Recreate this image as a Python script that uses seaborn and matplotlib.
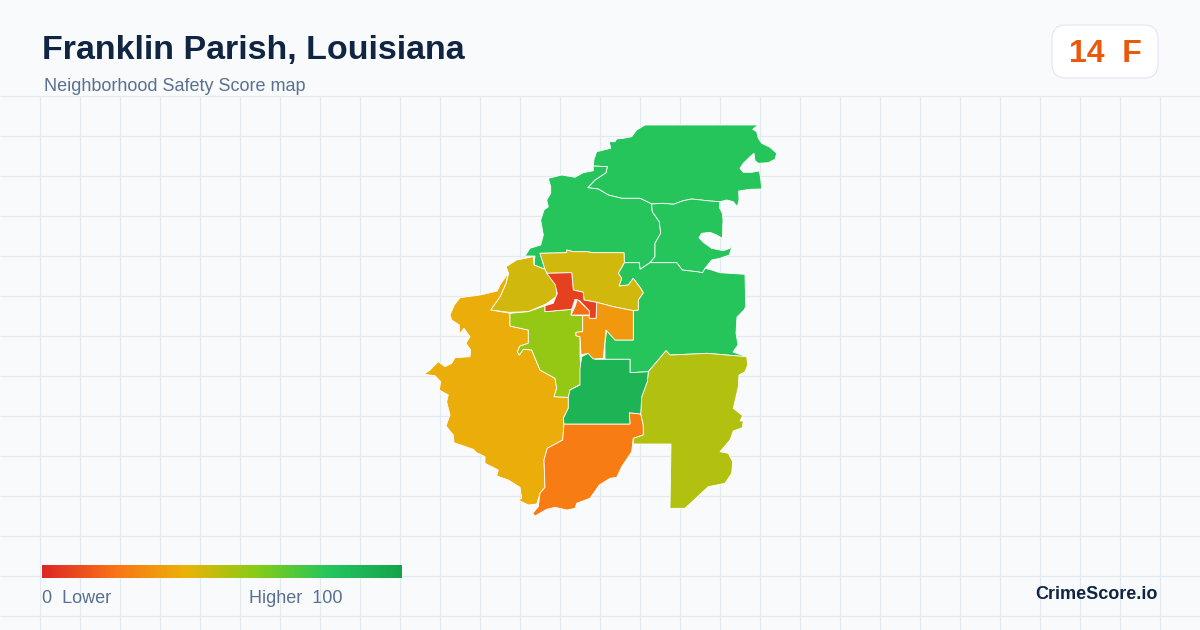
#importing libraries
import numpy as np
import matplotlib.pyplot as plt
from matplotlib.patches import FancyBboxPatch
import seaborn as sns

#Data, outlines in pixels
title = 'Franklin Parish, Louisiana'
subtitle = 'Neighborhood Safety Score map'
badge = '14  F'
legend_low = '0  Lower'
legend_high = 'Higher  100'
brand = 'CrimeScore.io'
palette_stops = ['#dc2626', '#f97316', '#eab308', '#84cc16', '#22c55e', '#16a34a']

north = [(587.7,187.7),(595,180),(606,172.7),(607.3,166.7),(593.3,166),(594,159.3),(596.7,151.7),(610.7,148.3),(609.3,141.7),(615,141.7),
         (616.7,139),(623.3,138.3),(631.7,136.7),(636.7,130),(645,125),(758.3,125),(752.7,129.3),(756.7,131.7),(758.3,138.3),(761.7,143.3),
         (770,147.3),(776.7,153.3),(775,159.3),(768.3,162.7),(758.3,163.3),(755,160.7),(754,153.3),(750,156.7),(743.3,163.3),(740,168.3),
         (743.3,172.3),(751.7,172.3),(759.3,171),(760.7,178.3),(761.7,189),(750,189.3),(738.7,191),(739,200),(737.3,206.7),(733.3,201.7),
         (726.7,200),(720,201.7),(710,201),(691.7,199),(683.3,200.7),(673.3,204.3),(663.3,203.3),(651.7,204),(648.3,202.3),(640,198.3),
         (621.7,198.3),(608.3,195),(598.3,189)]
northwest = [(593.3,166),(593.3,170.7),(583.3,172.7),(575,177.3),(561.7,175),(548.3,178.3),(550.7,186.7),(550.7,193.3),(546.7,200),(548.3,206.7),
             (544,210),(540.7,220),(543.3,235),(540.7,245),(530,248.3),(525,256),(535,256),(534,265),(545,269.3),(540,253.3),
             (566.7,252.7),(566.7,250),(573.3,251.7),(586.7,251.7),(593.3,252.7),(624,252.7),(624.3,262.7),(639.3,262.7),(640,269.3),
             (650,262.7),(655,256.7),(655,243.3),(660.7,233.3),(659.3,221.7),(652.3,211.7),(651.7,204),(648.3,202.3),(640,198.3),(621.7,198.3),
             (608.3,195),(598.3,189),(587.7,187.7),(595,180),(606,172.7),(607.3,166.7)]
northeast = [(651.7,204),(663.3,203.3),(673.3,204.3),(683.3,200.7),(691.7,199),(710,201),(720,201.7),(719.3,207.3),(722.3,213.3),(723,220),(722.3,238.3),
             (716.7,235),(710,232.3),(701.7,233.3),(699,237.7),(703.3,242.3),(711.7,248.3),(723.3,250.7),(730,248.3),(733.3,242.3),(729.3,255),(720,258.3),
             (711.7,260),(705,268.3),(702.7,272.7),(696.7,271.7),(682.3,270),(676.7,262.7),(650,262.7),(655,256.7),(655,243.3),
             (660.7,233.3),(659.3,221.7),(652.3,211.7)]
east = [(650,262.7),(676.7,262.7),(682.3,270),(696.7,271.7),(702.7,272.7),(705,268.3),(711.7,270),(720,272.7),(745,274.3),(745.7,306.7),
        (744,310),(737,317),(736,333),(738,345),(733,352),(746.7,356.7),(706.7,353.3),(693.3,354),(670,355),(666,350.7),(658.3,360),(648.3,371.7),
        (630,372.7),(630,359.3),(605,359.3),(605,343.3),(606.7,330),(615,340),(633.3,340),(633.3,310.7),(638.3,310),(638.3,300),(643.3,292.7),
        (640.7,288.3),(633.3,278.3),(628.3,285),(619,286),(621.7,278.3),(618.3,273.3),(624.3,262.7),(639.3,262.7),(640,269.3)]
central_north = [(540,253.3),(566.7,252.7),(566.7,250),(573.3,251.7),(586.7,251.7),(593.3,252.7),(624,252.7),(624.3,262.7),(618.3,273.3),
                 (621.7,278.3),(619,286),(628.3,285),(633.3,278.3),(640.7,288.3),(643.3,292.7),(638.3,300),(638.3,310),(633.3,310.7),
                 (613.3,306.7),(596.7,302.3),(584,300),(583.3,292.3),(573.3,290),(571.7,272.7),(546.7,273.3),(545,269.3)]
central_west = [(506,266.7),(516.7,260),(533.3,256.7),(534,265),(545,269.3),(546.7,273.3),(553.3,280),(557.3,286.7),(556,296.7),(546,304),
                (528.3,311.7),(509.3,312.3),(490.7,310),(500,296.7),(506,283.3),(508.7,273.3)]
downtown = [(546.7,273.3),(571.7,272.7),(573.3,290),(583.3,292.3),(584,300),(596.7,302.3),(596,318.3),(589.3,318.3),(589.3,311),(580,301),
            (575,299.3),(571.7,309.3),(545,311.7),(545,305.7),(553.3,303.3),(557.3,293.3),(555,284.3)]
downtown_south = [(577.3,299.3),(589.3,311),(589.3,315),(571,315),(575,306.7)]
southeast_city = [(596.7,302.3),(613.3,306.7),(633.3,310.7),(633.3,340),(615,340),(606,330),(603.3,358.3),(593.3,359),(588,353.3),(581,355),
                  (580,336.7),(576,335.7),(576,332.3),(582.7,331.7),(582.7,315.7),(589.3,315.7),(589.3,318.3),(596,318.3)]
midwest = [(510,313.3),(528.3,311.7),(545,305.7),(545,311.7),(571.7,309.3),(571,315),(582.7,315.7),(582.7,331.7),(576,332.3),(576,335.7),
           (580,336.7),(580,355),(580.7,368.3),(580.7,384),(570,390),(568.3,397.3),(554,396.7),(556.7,388.3),(555,378.3),(540,370),(531.7,350),
           (523.3,349.3),(519.3,355),(517.3,351.7),(520,346),(528.3,343.3),(528.3,330),(510,326)]
midsouth = [(581.7,356.7),(588.3,353.3),(593.3,355),(595,359.3),(630,359.3),(630,372.7),(648.3,371.7),(647.3,381.7),(641.7,396.7),(640.7,414),
            (629.3,412.7),(630,424),(564,424),(563.3,418.3),(568.3,408.3),(568.3,397.3),(570,390),(580,385),(580,368.3)]
southwest = [(508,273.3),(500,285),(497.3,291),(480,295),(460,297.7),(454.3,305),(450,315),(451.7,320),(459.3,325),(459.3,334.3),(464,328.3),
             (470,336.7),(466,343.3),(470.7,350),(470,356.7),(455,357.7),(451.7,363.3),(445,366.7),(438.3,361.7),(430,370),(424,374.3),(435,375.7),
             (440.7,381.7),(439.3,390),(448.3,395),(446.7,402),(450,415),(446,426),(453.3,435),(454,442.7),(473.3,449.3),(476.7,452.7),(485,456.7),
             (485,463.3),(498.3,470),(496.7,476),(508.3,480),(520,487.3),(521.7,498.3),(518.3,500),(528.3,505),(536.7,504),(540,493.3),(545,487.3),
             (544,460),(547.3,448.3),(562.7,440),(564,424),(563.3,418.3),(568.3,408.3),
             (568.3,397.3),(554,396.7),(556.7,388.3),(555,378.3),(540,370),(531.7,350),(523.3,349.3),(519.3,355),(517.3,351.7),(520,346),
             (528.3,343.3),(528.3,330),(510,326),(510,313.3),(490.7,310),(500,296.7),(506,283.3)]
south = [(564,424),(630,424),(629.3,412.7),(640.7,414),(643.3,425),(643.3,435),(633.3,438.3),(631.7,451.7),(621.7,466.7),(616.7,477.3),(610,478.3),
         (599.3,485),(590,498.3),(576.7,503.3),(575,508.3),(566.7,510),(555,507.3),(546.7,509.3),(535,516),(532.7,513.3),(538.3,506.7),(540,493.3),
         (545,487.3),(544,460),(547.3,448.3),(562.7,440)]
southeast = [(666,350.7),(670,355),(693.3,354),(706.7,353.3),(746.7,356.7),(747.7,365),(745,371.7),(739,375),(738.3,386.7),(735.7,398.3),(733.3,408.3),
             (742.7,415.7),(740,421),(743.3,421),(742.3,427.7),(733.3,431),(730,440),(720,451.7),(728.3,453.3),(732.7,461.7),(731.7,473.3),(725,483.3),
             (708.3,486.7),(685,508.3),(670,508.3),(671,444),(633.3,444),(633.3,438.3),(643.3,435),(643.3,425),(640.7,414),(641.7,396.7),(647.3,381.7),
             (648.3,371.7),(658.3,360)]

regions = [north, northwest, northeast, east, central_north, central_west, southwest, south, southeast,
           midwest, midsouth, southeast_city, downtown, downtown_south]
scores = [79, 79, 79, 79, 45, 45, 38, 23, 51, 57, 90, 32, 7, 19]

#Plot
sns.set_theme(style='white')
plt.rcParams['font.family'] = ['Liberation Sans', 'DejaVu Sans']

cmap = sns.blend_palette(palette_stops, as_cmap=True)

fig = plt.figure(figsize=(12, 6.3), dpi=100, facecolor='#f8fafc')
ax = fig.add_axes([0, 0, 1, 1])
ax.set_xlim(0, 1200)
ax.set_ylim(630, 0)
ax.axis('off')

#background grid below the header
ax.vlines(np.arange(40, 1200, 40), 96, 630, color='#e2eaef', lw=0.8, zorder=1)
ax.hlines(np.arange(96, 630, 40), 0, 1200, color='#e2eaef', lw=0.8, zorder=1)

#map
for outline, score in zip(regions, scores):
    xs, ys = zip(*outline)
    ax.fill(xs, ys, facecolor=cmap(score / 100), edgecolor='white', linewidth=0.6, zorder=2)

#header
ax.text(42, 59, title, fontsize=24.5, fontweight='bold', color='#0f2542', va='baseline')
ax.text(44, 91, subtitle, fontsize=13, color='#5a7090', va='baseline')

#grade badge
ax.add_patch(FancyBboxPatch((1066, 39), 78, 25, boxstyle='round,pad=14,rounding_size=14',
                            facecolor='white', edgecolor='#e2e8f0', linewidth=0.8, zorder=3))
ax.text(1105, 62, badge, fontsize=23, fontweight='bold', color='#ea580c', ha='center', va='baseline', zorder=4)

#colour legend
legend_ax = fig.add_axes([42 / 1200, 1 - 578 / 630, 360 / 1200, 13 / 630])
sns.heatmap(np.linspace(0, 100, 360).reshape(1, -1), ax=legend_ax, cmap=cmap, vmin=0, vmax=100,
            cbar=False, xticklabels=False, yticklabels=False)
ax.text(42, 603, legend_low, fontsize=13, color='#5a7090', va='baseline')
ax.text(249, 603, legend_high, fontsize=13, color='#5a7090', va='baseline')
ax.text(1158, 599, brand, fontsize=13, fontweight='bold', color='#0f2542', ha='right', va='baseline')

plt.savefig('out.png', dpi=100, facecolor=fig.get_facecolor())
